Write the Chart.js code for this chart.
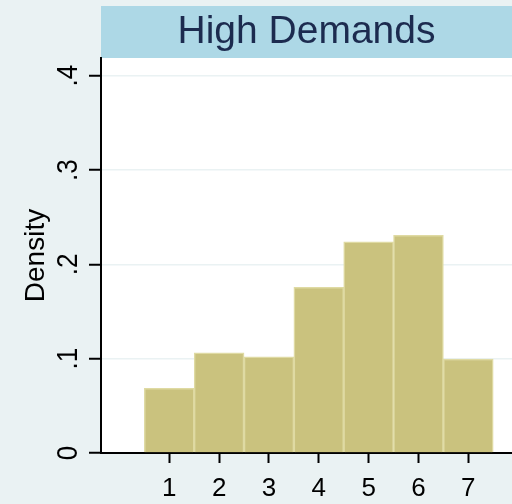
<!DOCTYPE html>
<html>
<head>
<meta charset="utf-8">
<script src="https://cdn.jsdelivr.net/npm/chart.js@4.4.1/dist/chart.umd.min.js"></script>
<style>
  html, body { margin: 0; padding: 0; background: #eaf2f3; }
  #wrap { width: 512px; height: 504px; }
</style>
</head>
<body>
<div id="wrap"><canvas id="hist"></canvas></div>
<script>
// histogram bins and densities
const bins = [1, 2, 3, 4, 5, 6, 7];
const density = [0.0685, 0.1063, 0.1020, 0.1756, 0.2240, 0.2308, 0.0997];
const yTicks = [0, 0.1, 0.2, 0.3, 0.4];
const yTickLabels = ['0', '.1', '.2', '.3', '.4'];
const panelTitle = 'High Demands';
const yTitle = 'Density';

const FONT = '"Liberation Sans", Arial, sans-serif';

// draws the white plot area, the blue title band and the rotated y labels
const stataLook = {
    id: 'stataLook',
    beforeDraw(chart) {
        const { ctx, chartArea: a } = chart;
        ctx.save();
        ctx.fillStyle = '#ffffff';
        ctx.fillRect(a.left, a.top, a.right - a.left, a.bottom - a.top);
        ctx.fillStyle = '#add8e6';
        ctx.fillRect(a.left, 6, a.right - a.left, a.top - 6);
        ctx.fillStyle = '#1c2b4f';
        ctx.font = '39px ' + FONT;
        ctx.textAlign = 'center';
        ctx.textBaseline = 'alphabetic';
        ctx.fillText(panelTitle, (a.left + a.right) / 2, 43);
        ctx.restore();
    },
    afterDraw(chart) {
        const { ctx } = chart;
        const y = chart.scales.y;
        ctx.save();
        ctx.fillStyle = '#000000';
        ctx.font = '26px ' + FONT;
        ctx.textAlign = 'center';
        ctx.textBaseline = 'alphabetic';
        yTicks.forEach((v, i) => {
            ctx.save();
            ctx.translate(77, y.getPixelForValue(v));
            ctx.rotate(-Math.PI / 2);
            ctx.scale(1, 1.15);
            ctx.fillText(yTickLabels[i], 0, 0);
            ctx.restore();
        });
        ctx.save();
        ctx.translate(44, (chart.chartArea.top + chart.chartArea.bottom) / 2);
        ctx.rotate(-Math.PI / 2);
        ctx.font = '28px ' + FONT;
        ctx.fillText(yTitle, 0, 0);
        ctx.restore();
        ctx.restore();
    }
};

new Chart(document.getElementById('hist'), {
    type: 'bar',
    data: {
        datasets: [{
            data: bins.map((b, i) => ({ x: b, y: density[i] })),
            backgroundColor: '#cac27e',
            borderColor: '#dfdaa3',
            borderWidth: 1.5,
            barPercentage: 1,
            categoryPercentage: 1
        }]
    },
    options: {
        responsive: true,
        maintainAspectRatio: false,
        animation: false,
        layout: { padding: { top: 58 } },
        plugins: { legend: { display: false }, tooltip: { enabled: false }, title: { display: false } },
        scales: {
            x: {
                type: 'linear',
                offset: false,
                min: -0.37,
                max: 7.877,
                afterBuildTicks: s => { s.ticks = bins.map(v => ({ value: v })); },
                afterFit: s => { s.height = 51; },
                border: { color: '#000000', width: 2 },
                grid: { offset: false, drawOnChartArea: false, tickLength: 10, tickColor: '#000000', tickWidth: 2 },
                ticks: { color: '#000000', font: { family: FONT, size: 26 }, padding: 10, maxRotation: 0 }
            },
            y: {
                min: 0,
                max: 0.4188,
                afterBuildTicks: s => { s.ticks = yTicks.map(v => ({ value: v })); },
                afterFit: s => { s.width = 101; },
                border: { color: '#000000', width: 2 },
                grid: {
                    color: c => c.tick && c.tick.value === 0 ? 'rgba(0,0,0,0)' : '#eaf2f3',
                    lineWidth: 1.5,
                    tickLength: 12,
                    tickColor: '#000000',
                    tickWidth: 2
                },
                ticks: { display: false }
            }
        }
    },
    plugins: [stataLook]
});
</script>
</body>
</html>
